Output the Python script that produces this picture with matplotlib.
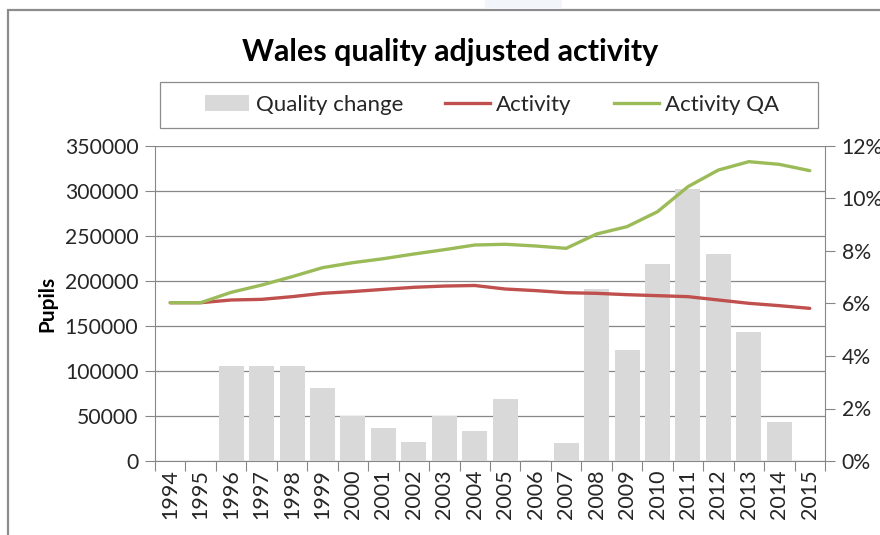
import matplotlib.pyplot as plt
from matplotlib.patches import Rectangle, Patch
from matplotlib.lines import Line2D
from matplotlib.ticker import FuncFormatter, MultipleLocator
import numpy as np

plt.rcParams['font.family'] = ['Lato', 'DejaVu Sans']

# Wales pupils activity and quality change by year
years = [str(y) for y in range(1994, 2016)]
activity = [175900, 175900, 178900, 179600, 182600, 186300, 188300, 190700, 193000, 194400,
            195000, 191100, 189300, 187000, 186300, 184800, 183700, 182600, 178900, 175200,
            172600, 169600]
activity_qa = [175900, 175900, 187400, 195500, 204800, 214800, 220400, 224800, 230000, 234800,
               240000, 240800, 238900, 236300, 252200, 260400, 277000, 304800, 323300, 332600,
               329600, 322600]
quality_change = [0, 0, 3.63, 3.63, 3.63, 2.77, 1.73, 1.26, 0.72, 1.73, 1.15, 2.35, 0.03, 0.67,
                  6.54, 4.23, 7.50, 10.35, 7.89, 4.90, 1.47, 0]

grey_bar = '#d9d9d9'
red = '#c0504d'
green = '#9bbb59'
txt = '#262626'

fig = plt.figure(figsize=(8.8, 5.35), dpi=100)

# outer chart frame
fig.patches.append(Rectangle((8 / 880, -0.05), 1.0, 1 - 10 / 535 + 0.05,
                             transform=fig.transFigure, fill=False,
                             edgecolor='#8c8c8c', linewidth=1.6))
fig.patches.append(Rectangle((485 / 880, 1 - 9 / 535), 77 / 880, 9 / 535,
                             transform=fig.transFigure, facecolor='#f2f5fa',
                             edgecolor='none'))

ax = fig.add_axes([155 / 880, 1 - 461 / 535, 670 / 880, 315 / 535])
x = np.arange(len(years))

# left axis: gridlines only (lines go on a twin further up the stack)
ax.set_xlim(-0.5, len(years) - 0.5)
ax.set_ylim(0, 350000)
ax.yaxis.set_major_locator(MultipleLocator(50000))
ax.grid(axis='y', color='#878787', linewidth=0.9)
ax.set_axisbelow(True)
ax.set_xticks(np.arange(-0.5, len(years), 1))
ax.set_xticklabels([])
ax.set_xticks(x, minor=True)
ax.set_xticklabels(years, minor=True, rotation=90, fontsize=15.5, color=txt)
ax.tick_params(axis='x', which='major', length=7, color='#878787')
ax.tick_params(axis='x', which='minor', length=0, pad=6)
ax.tick_params(axis='y', length=7, color='#878787', labelsize=15.2, labelcolor=txt, pad=5)
ax.set_ylabel('Pupils', fontsize=15, fontweight='bold', color='black', labelpad=5)
for side in ['top', 'right']:
    ax.spines[side].set_visible(False)
for side in ['left', 'bottom']:
    ax.spines[side].set_color('#878787')

# right axis: quality change bars
ax2 = ax.twinx()
ax2.bar(x, quality_change, width=0.82, color=grey_bar, zorder=2)
ax2.set_ylim(0, 12)
ax2.yaxis.set_major_locator(MultipleLocator(2))
ax2.yaxis.set_major_formatter(FuncFormatter(lambda v, p: f'{v:.0f}%'))
ax2.tick_params(axis='y', length=7, color='#878787', labelsize=15.2, labelcolor=txt, pad=5)
for side in ['top', 'left', 'bottom']:
    ax2.spines[side].set_visible(False)
ax2.spines['right'].set_color('#878787')

# activity lines on the pupils scale, drawn above the bars
ax3 = ax.twinx()
ax3.set_ylim(ax.get_ylim())
ax3.plot(x, activity, color=red, linewidth=2.4, solid_capstyle='round')
ax3.plot(x, activity_qa, color=green, linewidth=2.4, solid_capstyle='round')
ax3.axis('off')

fig.text(450 / 880, 1 - 52 / 535, 'Wales quality adjusted activity', ha='center', va='center',
         fontsize=22, fontweight='bold', color='black')

# legend box
fig.patches.append(Rectangle((160 / 880, 1 - 128 / 535), 658 / 880, 46 / 535,
                             transform=fig.transFigure, fill=False,
                             edgecolor='#8c8c8c', linewidth=0.9))
handles = [Patch(facecolor=grey_bar, edgecolor='none'),
           Line2D([], [], color=red, linewidth=2.4),
           Line2D([], [], color=green, linewidth=2.4)]
fig.legend(handles, ['Quality change', 'Activity', 'Activity QA'], loc='center',
           bbox_to_anchor=(492 / 880, 1 - 105 / 535), ncol=3, frameon=False,
           fontsize=16, handlelength=2.0, handletextpad=0.3, columnspacing=1.9,
           labelcolor=txt)

fig.savefig('out.png', dpi=100)
